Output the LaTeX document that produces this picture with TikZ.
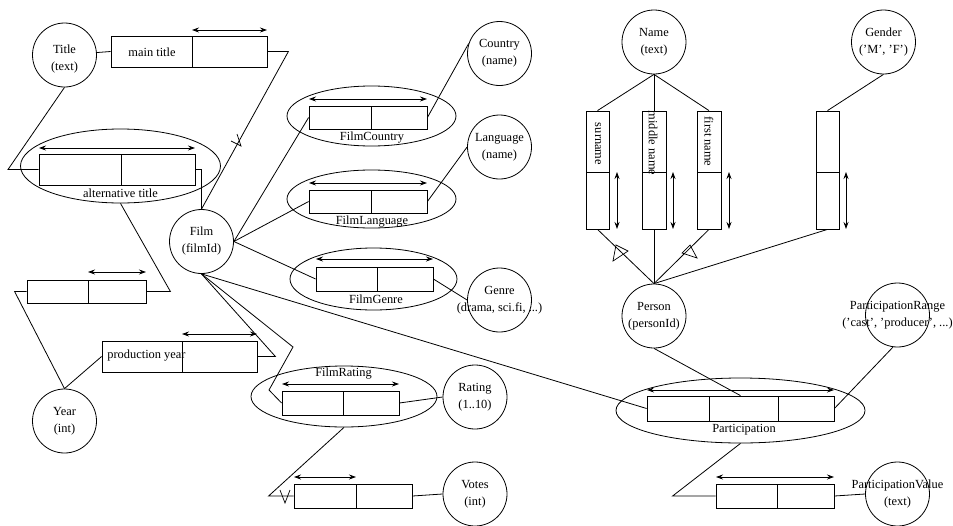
\documentclass[tikz,border=0pt]{standalone}
\usepackage{fontspec}
\setmainfont{Liberation Serif}
\usetikzlibrary{shapes.geometric,arrows.meta,calc}
\tikzset{
  attr/.style={circle, draw, minimum size=64pt, inner sep=0pt},
  txt/.style={font=\fontsize{12.4}{17}\selectfont, align=center, inner sep=0pt},
  cell/.style={draw, rectangle, inner sep=0pt},
  role/.style={ellipse, draw, inner sep=0pt},
  span/.style={{Stealth[length=7pt,width=5pt,inset=2.5pt]}-{Stealth[length=7pt,width=5pt,inset=2.5pt]}},
  cmark/.style={line width=0.7pt},
}
\begin{document}
\begin{tikzpicture}[x=1pt,y=-1pt,line width=0.8pt]
\useasboundingbox (0,0) rectangle (953,525);

% ---------- attribute circles ----------
\node[attr] (title) at (64.5,55) {};
\node[txt] (titleT) at (64.5,59) {Title\\(text)};
\node[attr] (film) at (201.5,241.5) {};
\node[txt] (filmT) at (film) {Film\\(filmId)};
\node[attr] (year) at (64.5,421) {};
\node[txt] (yearT) at (year) {Year\\(int)};
\node[attr] (country) at (499.5,53.5) {};
\node[txt] (countryT) at (country) {Country\\(name)};
\node[attr] (language) at (499.5,147) {};
\node[txt] (languageT) at (language) {Language\\(name)};
\node[attr] (genre) at (499.5,300) {};
\node[txt] (genreT) at (genre) {Genre\\(drama, sci.fi, ...)};
\node[attr] (rating) at (475,397) {};
\node[txt] (ratingT) at (rating) {Rating\\(1..10)};
\node[attr] (votes) at (475,494) {};
\node[txt] (votesT) at (votes) {Votes\\(int)};
\node[attr] (name) at (654,42) {};
\node[txt] (nameT) at (name) {Name\\(text)};
\node[attr] (gender) at (883.5,42) {};
\node[txt] (genderT) at (gender) {Gender\\('M', 'F')};
\node[attr] (person) at (654,316) {};
\node[txt] (personT) at (person) {Person\\(personId)};
\node[attr] (prange) at (897.5,315) {};
\node[txt] (prangeT) at (prange) {ParticipationRange\\('cast', 'producer', ...)};
\node[attr] (pvalue) at (897.5,494) {};
\node[txt] (pvalueT) at (pvalue) {ParticipationValue\\(text)};

% ---------- role ellipses ----------
\node[role, minimum width=200pt, minimum height=74pt] (atE) at (120.5,166) {};
\node[role, minimum width=169pt, minimum height=60pt] (fcE) at (371.5,116) {};
\node[role, minimum width=169pt, minimum height=58pt] (flE) at (371.5,199) {};
\node[role, minimum width=167pt, minimum height=62pt] (fgE) at (373.5,279) {};
\node[role, minimum width=186pt, minimum height=61pt] (frE) at (344,396.5) {};
\node[role, minimum width=249pt, minimum height=65pt] (partE) at (740.5,410.5) {};

% ---------- fact boxes ----------
\node[cell, minimum width=156pt, minimum height=31pt] (mt) at (189,51.5) {};
\node[cell, minimum width=156pt, minimum height=31pt] (at) at (117,169.5) {};
\node[cell, minimum width=119pt, minimum height=23pt] (ay) at (86.5,291.5) {};
\node[cell, minimum width=155pt, minimum height=31pt] (py) at (179.5,356.5) {};
\node[cell, minimum width=118pt, minimum height=23pt] (fc) at (368,117.5) {};
\node[cell, minimum width=118pt, minimum height=23pt] (fl) at (368,201.5) {};
\node[cell, minimum width=117pt, minimum height=24pt] (fg) at (374.5,279) {};
\node[cell, minimum width=117pt, minimum height=24pt] (fr) at (340.5,403) {};
\node[cell, minimum width=118pt, minimum height=24pt] (vo) at (353,496) {};
\node[cell, minimum width=23pt, minimum height=118pt] (sur) at (597.5,170) {};
\node[cell, minimum width=24pt, minimum height=118pt] (mid) at (654,170) {};
\node[cell, minimum width=24pt, minimum height=118pt] (fst) at (709,170) {};
\node[cell, minimum width=23pt, minimum height=118pt] (gbx) at (827.5,170) {};
\node[cell, minimum width=187pt, minimum height=25pt] (part) at (740.5,408.5) {};
\node[cell, minimum width=118pt, minimum height=24pt] (pvb) at (775,496) {};

% dividers
\draw (192,36) -- (192,67);
\draw (121,154) -- (121,185);
\draw (88,280) -- (88,303);
\draw (182,341) -- (182,372);
\draw (371,106) -- (371,129);
\draw (371,190) -- (371,213);
\draw (377,267) -- (377,291);
\draw (343,391) -- (343,415);
\draw (356,484) -- (356,508);
\draw (586,172) -- (609,172);
\draw (642,172) -- (666,172);
\draw (697,172) -- (721,172);
\draw (816,172) -- (839,172);
\draw (709,396) -- (709,421);
\draw (778,396) -- (778,421);
\draw (777,484) -- (777,508);

% uniqueness spans
\draw[span] (192,30) -- (267,30);
\draw[span] (39,148) -- (195,148);
\draw[span] (88,272) -- (146,272);
\draw[span] (182,334) -- (257,334);
\draw[span] (309,99) -- (427,99);
\draw[span] (309,183) -- (427,183);
\draw[span] (316,259) -- (433,259);
\draw[span] (282,384) -- (399,384);
\draw[span] (294,477) -- (356,477);
\draw[span] (617,172) -- (617,229);
\draw[span] (673,172) -- (673,229);
\draw[span] (729,172) -- (729,229);
\draw[span] (846,172) -- (846,229);
\draw[span] (647,390) -- (834,390);
\draw[span] (716,477) -- (834,477);

% ---------- labels ----------
\node[txt] (mtL) at (152,52) {main title};
\node[txt] (atL) at (120.5,193) {alternative title};
\node[txt, anchor=west] (pyL) at (107,356) {production year};
\node[txt] (fcL) at (372,138) {FilmCountry};
\node[txt] (flL) at (372,222) {FilmLanguage};
\node[txt] (fgL) at (376,299) {FilmGenre};
\node[txt] (frL) at (343.5,374) {FilmRating};
\node[txt] (partL) at (744,430) {Participation};
\node[txt, rotate=-90] (surL) at (598,144) {surname};
\node[txt, rotate=-90] (midL) at (653,143) {middle name};
\node[txt, rotate=-90] (fstL) at (709,141.5) {first name};

% ---------- connectors ----------
\draw (title) -- (mt.west);
\draw (mt.east) -- ++(21,0) -- (film.north);
\draw (title.south) -- (8,169.5) -- (at.west);
\draw (at.east) -- (at.east -| film.north) -- (film.north);
\draw (atE.south) -- ($(ay.east)+(24,0)$) -- (ay.east);
\draw (ay.west) -- ++(-12,0) -- (year.north);
\draw (year.north) -- (py.west);
\draw (py.east) -- ++(18,0) -- (film.south);
\draw (film.south) -- (293,347) -- (269,390) -- (fr.west);
\draw (film.south) -- (part.west);
\draw (film.east) -- (fc.west);
\draw (film.east) -- (fl.west);
\draw (film.east) -- (fg.west);
\draw (fc.east) -- (country.162);
\draw (fl.east) -- (language.west);
\draw (fg.east) -- (genre.west);
\draw (fr.east) -- (rating.west);
\draw (frE.south) -- ($(vo.west)+(-25,0)$) -- (vo.west);
\draw (vo.east) -- (votes.west);
\draw (name.south) -- (sur.north);
\draw (name.south) -- (mid.north);
\draw (name.south) -- (fst.north);
\draw (gender.south) -- (gbx.north);
\draw (sur.south) -- (person.north);
\draw (mid.south) -- (person.north);
\draw (fst.south) -- (person.north);
\draw (gbx.south) -- (person.north);
\draw (person.south) -- (part.north);
\draw (part.east) -- (prange.262);
\draw (partE.south) -- ($(pvb.west)+(-43,0)$) -- (pvb.west);
\draw (pvb.east) -- (pvalue.west);

% ---------- constraint marks ----------
\draw[cmark] (237,134) -- (241,146) -- (231,141);
\draw[cmark] (616,245) -- (613,261) -- (628,251) -- cycle;
\draw[cmark] (690,245) -- (682,253) -- (697,258) -- cycle;
\draw[cmark] (280,490) -- (285,503) -- (290,490);
\end{tikzpicture}
\end{document}
